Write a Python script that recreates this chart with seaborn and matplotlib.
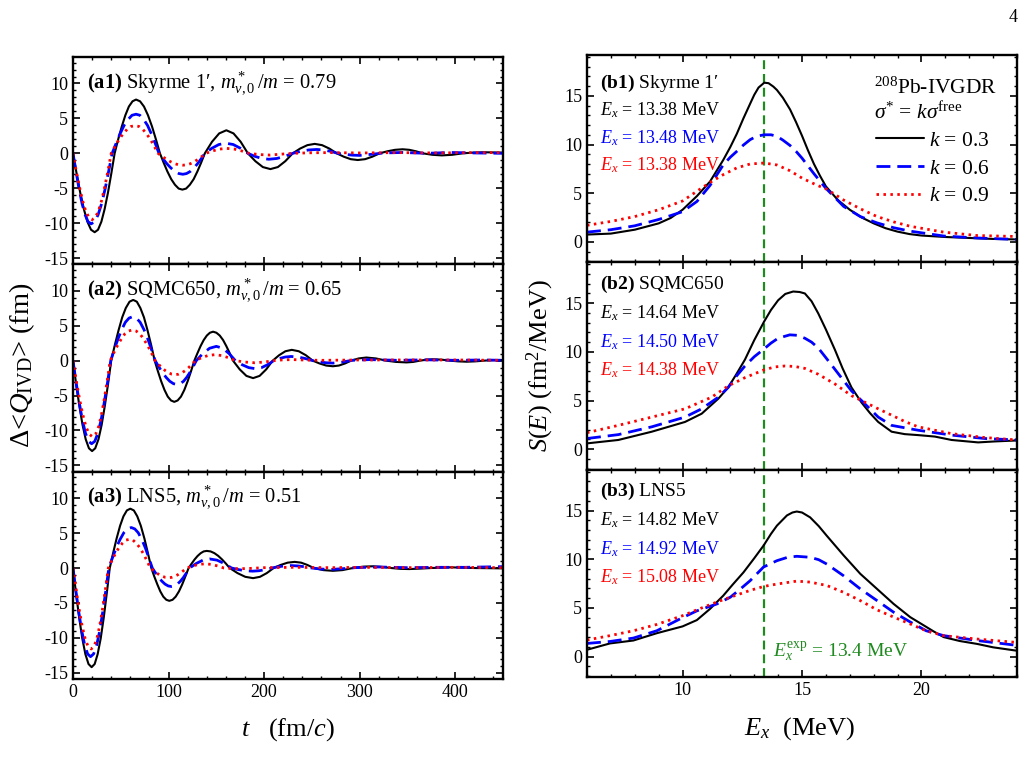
import numpy as np
import pandas as pd
import seaborn as sns
import matplotlib.pyplot as plt
from matplotlib.lines import Line2D
from matplotlib.ticker import MultipleLocator

# --- data: (t [fm/c], dQ [fm]) ---
a1_k03 = [(0, 0), (3.8, -2.9), (7.6, -5.65), (11.4, -8.0), (15.1, -9.8), (18.9, -10.95), (22.7, -11.3),
          (26.2, -10.95), (29.7, -9.8), (33.1, -8.0), (36.6, -5.65), (40.1, -2.9), (43.6, 0),
          (47.3, 2.0), (51.1, 3.85), (54.8, 5.45), (58.5, 6.7), (62.3, 7.45), (66, 7.7),
          (70.2, 7.45), (74.3, 6.7), (78.5, 5.45), (82.7, 3.85), (86.8, 2.0), (91, 0),
          (94.9, -1.35), (98.8, -2.6), (102.8, -3.7), (106.7, -4.5), (110.6, -5.05), (114.5, -5.2),
          (118.4, -5.05), (122.3, -4.5), (126.3, -3.7), (130.2, -2.6), (134.1, -1.35), (138, 0),
          (145.5, 1.65), (153, 2.85), (160.5, 3.3), (168, 2.85), (175.5, 1.65), (183, 0),
          (190.9, -1.13), (198.7, -1.97), (206.6, -2.26), (214.4, -1.97), (222.2, -1.13), (230, 0),
          (237.7, 0.68), (245.3, 1.17), (253, 1.35), (260.7, 1.17), (268.3, 0.68), (276, 0),
          (283.3, -0.48), (290.7, -0.84), (298, -0.96), (305.7, -0.84), (313.3, -0.48), (321, 0),
          (329, 0.29), (337, 0.5), (345, 0.58), (352, 0.5), (359, 0.29), (366, 0),
          (376, -0.21), (386, -0.3), (397, -0.21), (408, 0), (419, 0.1), (430, 0.15), (450, 0.1)]
a1_k06 = [(0, 0), (3.2, -2.6), (6.3, -5.05), (9.5, -7.2), (12.7, -8.8), (15.8, -9.8), (19, -10.1),
          (22.7, -9.8), (26.3, -8.8), (30, -7.2), (33.7, -5.05), (37.3, -2.6), (41, 0),
          (45.2, 1.45), (49.3, 2.8), (53.5, 4.0), (57.7, 4.85), (61.8, 5.45), (66, 5.6),
          (70, 5.45), (74, 4.85), (78, 4.0), (82, 2.8), (86, 1.45), (90, 0),
          (94.2, -0.78), (98.3, -1.5), (102.5, -2.1), (106.7, -2.6), (110.8, -2.9), (115, -3.0),
          (118.8, -2.9), (122.7, -2.6), (126.5, -2.1), (130.3, -1.5), (134.2, -0.78), (138, 0),
          (145.3, 0.72), (152.7, 1.26), (160, 1.45), (167.7, 1.26), (175.3, 0.72), (183, 0),
          (190.3, -0.43), (197.7, -0.74), (205, -0.85), (213.3, -0.74), (221.7, -0.43), (230, 0),
          (238.3, 0.28), (246.7, 0.48), (255, 0.55), (262.3, 0.48), (269.7, 0.28), (277, 0),
          (284.7, -0.15), (292.3, -0.26), (300, -0.3), (312, -0.15), (325, 0.05), (345, 0.12),
          (370, 0.0), (395, 0.12), (420, 0.05), (450, 0.0)]
a1_k09 = [(0, 0), (3.3, -2.45), (6.7, -4.75), (10, -6.75), (13.3, -8.25), (16.7, -9.2), (20, -9.5),
          (23.3, -9.2), (26.7, -8.25), (30, -6.75), (33.3, -4.75), (36.7, -2.45), (40, 0),
          (44.2, 1.03), (48.3, 2.0), (52.5, 2.8), (56.7, 3.45), (60.8, 3.85), (65, 3.95),
          (69, 3.85), (73, 3.45), (77, 2.8), (81, 2.0), (85, 1.03), (89, 0),
          (93.3, -0.44), (97.7, -0.85), (102, -1.2), (106.3, -1.48), (110.7, -1.65), (115, -1.7),
          (119, -1.65), (123, -1.48), (127, -1.2), (131, -0.85), (135, -0.44), (139, 0),
          (146.3, 0.35), (153.7, 0.61), (161, 0.7), (168.7, 0.61), (176.3, 0.35), (184, 0),
          (195, -0.18), (206, -0.25), (218, -0.12), (230, 0.0), (250, 0.08), (270, 0.1), (300, 0.05),
          (340, 0.1), (380, 0.05), (420, 0.1), (450, 0.1)]

a2_k03 = [(0, 0), (3.3, -3.35), (6.7, -6.5), (10, -9.2), (13.3, -11.25), (16.7, -12.55), (20, -12.95),
          (23.3, -12.55), (26.7, -11.25), (30, -9.2), (33.3, -6.5), (36.7, -3.35), (40, 0),
          (43.8, 2.25), (47.7, 4.35), (51.5, 6.2), (55.3, 7.55), (59.2, 8.45), (63, 8.7),
          (66.8, 8.45), (70.5, 7.55), (74.3, 6.2), (78, 4.35), (81.8, 2.25), (85.5, 0),
          (88.9, -1.53), (92.3, -2.95), (95.8, -4.2), (99.2, -5.15), (102.6, -5.7), (106, -5.9),
          (109.5, -5.7), (113, -5.15), (116.5, -4.2), (120, -2.95), (123.5, -1.53), (127, 0),
          (130.3, 1.08), (133.5, 2.08), (136.8, 2.95), (140.1, 3.6), (143.3, 4.0), (146.6, 4.15),
          (150.1, 4.0), (153.6, 3.6), (157.1, 2.95), (160.5, 2.08), (164, 1.08), (167.5, 0),
          (174.5, -1.25), (181.5, -2.18), (188.5, -2.5), (195.3, -2.18), (202.2, -1.25), (209, 0),
          (215.7, 0.78), (222.3, 1.35), (229, 1.55), (236.3, 1.35), (243.7, 0.78), (251, 0),
          (258, -0.4), (265, -0.7), (272, -0.8), (278.3, -0.7), (284.7, -0.4), (291, 0),
          (299, 0.32), (307, 0.45), (317, 0.32), (328, 0), (338, -0.18), (349, -0.25), (356, -0.18),
          (363, 0), (370, 0.14), (377, 0.2), (386, 0.14), (395, 0), (403, -0.1), (412, -0.15),
          (421, -0.1), (430, 0), (440, 0.08), (450, 0.1)]
a2_k06 = [(0, 0), (3.25, -3.1), (6.5, -5.95), (9.75, -8.45), (13, -10.35), (16.25, -11.55), (19.5, -11.9),
          (22.8, -11.55), (26.2, -10.35), (29.5, -8.45), (32.8, -5.95), (36.2, -3.1), (39.5, 0),
          (43.3, 1.64), (47.2, 3.15), (51, 4.45), (54.8, 5.5), (58.7, 6.1), (62.5, 6.3),
          (66.4, 6.1), (70.3, 5.5), (74.3, 4.45), (78.2, 3.15), (82.1, 1.64), (86, 0),
          (89.8, -0.88), (93.7, -1.7), (97.5, -2.4), (101.3, -2.95), (105.2, -3.3), (109, -3.4),
          (112.3, -3.3), (115.7, -2.95), (119, -2.4), (122.3, -1.7), (125.7, -0.88), (129, 0),
          (136, 1.03), (143, 1.78), (150, 2.05), (156.7, 1.78), (163.3, 1.03), (170, 0),
          (177, -0.58), (184, -1.0), (191, -1.15), (197.3, -1.0), (203.7, -0.58), (210, 0),
          (216, 0.3), (222, 0.52), (228, 0.6), (235.7, 0.52), (243.3, 0.3), (251, 0),
          (258, -0.18), (265, -0.3), (272, -0.35), (282, -0.2), (292, 0.05), (310, 0.15), (340, 0.05),
          (370, 0.12), (400, 0.05), (430, 0.1), (450, 0.05)]
a2_k09 = [(0, 0), (3.4, -2.85), (6.8, -5.45), (10.3, -7.75), (13.7, -9.5), (17.1, -10.55), (20.5, -10.9),
          (23.6, -10.55), (26.7, -9.5), (29.8, -7.75), (32.8, -5.45), (35.9, -2.85), (39, 0),
          (42.8, 1.15), (46.7, 2.2), (50.5, 3.1), (54.3, 3.85), (58.2, 4.25), (62, 4.4),
          (66, 4.25), (70, 3.85), (74, 3.1), (78, 2.2), (82, 1.15), (86, 0),
          (89.5, -0.52), (93, -1.0), (96.5, -1.42), (100, -1.74), (103.5, -1.94), (107, -2.0),
          (110.5, -1.94), (114, -1.74), (117.5, -1.42), (121, -1.0), (124.5, -0.52), (128, 0),
          (134.7, 0.43), (141.3, 0.74), (148, 0.85), (155.3, 0.74), (162.7, 0.43), (170, 0),
          (180, -0.2), (190, -0.3), (200, -0.2), (210, 0), (220, 0.12), (230, 0.15), (245, 0.08),
          (260, 0.05), (300, 0.1), (350, 0.1), (400, 0.1), (450, 0.05)]

a3_k03 = [(0, 0), (3.25, -3.7), (6.5, -7.1), (9.75, -10.1), (13, -12.35), (16.25, -13.75), (19.5, -14.2),
          (22.7, -13.75), (25.8, -12.35), (29, -10.1), (32.2, -7.1), (35.3, -3.7), (38.5, 0),
          (42.1, 2.2), (45.7, 4.25), (49.3, 6.05), (52.8, 7.4), (56.4, 8.25), (60, 8.5),
          (63.7, 8.25), (67.3, 7.4), (71, 6.05), (74.7, 4.25), (78.3, 2.2), (82, 0),
          (85.1, -1.22), (88.3, -2.35), (91.4, -3.35), (94.5, -4.1), (97.7, -4.55), (100.8, -4.7),
          (104.2, -4.55), (107.5, -4.1), (110.9, -3.35), (114.3, -2.35), (117.6, -1.22), (121, 0),
          (124.2, 0.64), (127.3, 1.23), (130.5, 1.74), (133.7, 2.13), (136.8, 2.38), (140, 2.45),
          (144, 2.38), (148, 2.13), (152, 1.74), (156, 1.23), (160, 0.64), (164, 0),
          (172.2, -0.73), (180.3, -1.26), (188.5, -1.45), (195.7, -1.26), (202.8, -0.73), (210, 0),
          (217.3, 0.44), (224.7, 0.77), (232, 0.88), (238.7, 0.77), (245.3, 0.44), (252, 0),
          (262, -0.3), (272, -0.4), (282, -0.3), (293, 0), (304, 0.2), (314, 0.25), (324, 0.15), (333, 0),
          (343, -0.12), (352, -0.15), (364, -0.08), (375, 0), (395, 0.1), (420, 0), (450, -0.05)]
a3_k06 = [(0, 0), (3.1, -3.3), (6.1, -6.35), (9.2, -9.0), (12.3, -11.05), (15.3, -12.3), (18.4, -12.7),
          (21.6, -12.3), (24.8, -11.05), (28, -9.0), (31.1, -6.35), (34.3, -3.3), (37.5, 0),
          (41.4, 1.5), (45.3, 2.9), (49.3, 4.1), (53.2, 5.05), (57.1, 5.6), (61, 5.8),
          (64.7, 5.6), (68.3, 5.05), (72, 4.1), (75.7, 2.9), (79.3, 1.5), (83, 0),
          (86.3, -0.69), (89.7, -1.33), (93, -1.88), (96.3, -2.3), (99.7, -2.57), (103, -2.65),
          (106.2, -2.57), (109.3, -2.3), (112.5, -1.88), (115.7, -1.33), (118.8, -0.69), (122, 0),
          (129, 0.65), (136, 1.13), (143, 1.3), (150.7, 1.13), (158.3, 0.65), (166, 0),
          (173.3, -0.23), (180.7, -0.39), (188, -0.45), (194.7, -0.39), (201.3, -0.23), (208, 0),
          (214.7, 0.18), (221.3, 0.3), (228, 0.35), (235.3, 0.3), (242.7, 0.18), (250, 0),
          (260, -0.15), (270, -0.2), (282, -0.1), (295, 0.05), (320, 0.15), (350, 0.05), (380, 0.1),
          (410, 0.1), (430, 0.15), (450, 0.2)]
a3_k09 = [(0, 0), (3.2, -3.0), (6.3, -5.8), (9.5, -8.25), (12.7, -10.1), (15.8, -11.25), (19, -11.6),
          (22, -11.25), (25, -10.1), (28, -8.25), (31, -5.8), (34, -3.0), (37, 0),
          (40.7, 1.07), (44.3, 2.05), (48, 2.9), (51.7, 3.55), (55.3, 4.0), (59, 4.1),
          (62.7, 4.0), (66.3, 3.55), (70, 2.9), (73.7, 2.05), (77.3, 1.07), (81, 0),
          (84.2, -0.36), (87.3, -0.69), (90.5, -0.98), (93.7, -1.2), (96.8, -1.34), (100, -1.38),
          (103.2, -1.34), (106.3, -1.2), (109.5, -0.98), (112.7, -0.69), (115.8, -0.36), (119, 0),
          (125.3, 0.3), (131.7, 0.52), (138, 0.6), (144.7, 0.52), (151.3, 0.3), (158, 0),
          (166, -0.08), (175, -0.1), (186, -0.05), (200, 0.05), (230, 0.1), (270, 0.05), (300, 0.1),
          (350, 0.05), (400, 0.1), (450, 0.05)]

# --- strength functions: (E [MeV], S [fm^2/MeV]) ---
b1_k03 = [(6, 0.75), (7, 0.85), (8, 1.25), (9, 1.9), (9.5, 2.45), (10, 3.3), (10.6, 4.7), (11.15, 6.2),
          (11.7, 8.4), (12.0, 9.75), (12.27, 11.1), (12.55, 12.7), (12.83, 14.2), (13.0, 15.1), (13.18, 15.85),
          (13.42, 16.35), (13.6, 16.3), (13.8, 15.95), (13.95, 15.6), (14.2, 14.8), (14.5, 13.6), (14.75, 12.3),
          (15.0, 10.9), (15.25, 9.4), (15.5, 8.0), (15.75, 6.8), (16.0, 5.7), (16.5, 4.3), (17.0, 3.3),
          (17.5, 2.5), (18, 1.9), (18.5, 1.4), (19, 1.05), (19.5, 0.8), (20, 0.65), (21, 0.5), (22, 0.4),
          (23, 0.3), (24, 0.25)]
b1_k06 = [(6, 1.0), (7, 1.25), (8, 1.65), (9, 2.3), (10, 3.1), (10.6, 4.15), (11.15, 5.8), (11.7, 7.9),
          (12.0, 8.7), (12.27, 9.3), (12.55, 9.95), (12.83, 10.5), (13.1, 10.85), (13.42, 11.0), (13.7, 11.0),
          (13.95, 10.85), (14.2, 10.45), (14.5, 9.9), (14.75, 9.3), (15.0, 8.6), (15.5, 7.0), (16.0, 5.5),
          (16.4, 4.5), (16.74, 3.65), (17.44, 2.6), (18.14, 1.95), (18.84, 1.45), (19.53, 1.1), (20.93, 0.6),
          (22.33, 0.4), (24, 0.25)]
b1_k09 = [(6, 1.7), (7, 2.1), (8, 2.6), (9, 3.3), (10, 4.2), (10.6, 5.2), (11.15, 6.1), (11.7, 6.9),
          (12.27, 7.6), (12.83, 8.0), (13.42, 8.1), (13.95, 7.9), (14.5, 7.3), (15.0, 6.55), (15.6, 5.85),
          (16.04, 5.4), (16.74, 4.3), (17.44, 3.4), (18.14, 2.6), (18.84, 2.05), (19.53, 1.6), (20.93, 1.0),
          (22.33, 0.65), (24, 0.55)]

b2_k03 = [(6, 0.6), (7.31, 0.95), (8.71, 1.8), (10.1, 2.8), (10.8, 3.65), (11.5, 5.2), (11.91, 6.35),
          (12.25, 7.7), (12.61, 9.2), (13.0, 11.2), (13.41, 13.1), (13.7, 14.3), (14.0, 15.3), (14.3, 15.95),
          (14.63, 16.2), (14.9, 16.15), (15.12, 16.0), (15.4, 15.2), (15.68, 13.95), (16.0, 12.3),
          (16.38, 10.2), (16.7, 8.3), (17.07, 6.35), (17.49, 4.8), (17.85, 3.7), (18.19, 2.8), (18.75, 1.8),
          (19.3, 1.55), (19.86, 1.45), (20.56, 1.3), (21.26, 0.95), (22.37, 0.7), (23.07, 0.8), (24, 0.9)]
b2_k06 = [(6, 1.1), (7.31, 1.5), (8.71, 2.3), (10.1, 3.3), (10.8, 4.15), (11.5, 5.35), (11.91, 6.35),
          (12.25, 7.5), (12.61, 8.55), (13.0, 9.5), (13.41, 10.3), (13.7, 10.9), (14.0, 11.4), (14.49, 11.75),
          (14.8, 11.7), (15.12, 11.4), (15.4, 11.0), (15.68, 10.4), (16.0, 9.4), (16.38, 8.2), (17.07, 6.0),
          (17.49, 5.0), (18.19, 3.3), (18.75, 2.45), (19.86, 1.95), (21.26, 1.45), (22.65, 1.1), (24, 0.95)]
b2_k09 = [(6, 1.7), (7.31, 2.45), (8.71, 3.3), (10.1, 4.15), (11.22, 5.35), (11.91, 6.5), (12.61, 7.35),
          (13.41, 8.15), (13.85, 8.45), (14.28, 8.55), (14.7, 8.5), (15.12, 8.3), (15.68, 7.7), (16.38, 6.7),
          (17.07, 5.5), (17.49, 5.0), (18.19, 4.15), (18.75, 3.5), (19.3, 2.85), (19.86, 2.3), (21.26, 1.6),
          (22.65, 1.2), (24, 0.95)]

b3_k03 = [(6, 0.7), (6.96, 1.35), (7.94, 1.65), (8.92, 2.4), (10, 3.1), (10.6, 3.75), (11.15, 4.9),
          (11.7, 6.25), (12.1, 7.4), (12.55, 8.65), (13.0, 10.1), (13.39, 11.4), (13.7, 12.6), (13.95, 13.45),
          (14.37, 14.5), (14.6, 14.8), (14.78, 14.9), (15.0, 14.8), (15.34, 14.3), (15.7, 13.4), (16.04, 12.4),
          (16.74, 10.4), (17.44, 8.5), (18.14, 6.95), (18.84, 5.4), (19.53, 4.05), (20, 3.35), (20.5, 2.6),
          (20.93, 2.0), (21.6, 1.6), (22.33, 1.3), (23, 0.95), (24, 0.6)]
b3_k06 = [(6, 1.35), (6.96, 1.55), (7.94, 1.9), (8.92, 2.65), (10, 4.0), (10.6, 4.7), (11.43, 5.4), (12, 6.1),
          (12.4, 6.9), (12.83, 7.8), (13.39, 9.2), (13.95, 9.85), (14.4, 10.2), (14.78, 10.3), (15.34, 10.2),
          (15.7, 9.95), (16.04, 9.5), (16.74, 8.3), (17.44, 6.95), (18.14, 5.75), (18.84, 4.55), (19.53, 3.55),
          (20.2, 2.65), (20.93, 2.15), (22.33, 1.65), (24, 1.15)]
b3_k09 = [(6, 1.7), (6.96, 2.15), (7.94, 2.65), (8.92, 3.3), (10, 4.2), (10.6, 4.8), (11.43, 5.6), (12, 6.1),
          (12.83, 6.8), (13.39, 7.2), (13.95, 7.45), (14.78, 7.75), (15.34, 7.65), (16.04, 7.3), (16.74, 6.6),
          (17.44, 5.75), (18.14, 4.8), (18.84, 4.05), (19.53, 3.35), (20.2, 2.65), (20.93, 2.15), (22.33, 1.8),
          (24, 1.45)]

k_labels = ['0.3', '0.6', '0.9']
left_titles = [r"$\mathbf{(a1)}$ Skyrme 1" + "\u2032" + r", $m^*_{v,0}\,/m$ = 0.79",
               r"$\mathbf{(a2)}$ SQMC650, $m^*_{v,0}\,/m$ = 0.65",
               r"$\mathbf{(a3)}$ LNS5, $m^*_{v,0}\,/m$ = 0.51"]
right_titles = [r"$\mathbf{(b1)}$ Skyrme 1" + "\u2032", r"$\mathbf{(b2)}$ SQMC650", r"$\mathbf{(b3)}$ LNS5"]
ex_values = [['13.38', '13.48', '13.38'], ['14.64', '14.50', '14.38'], ['14.82', '14.92', '15.08']]
E_exp = 13.4

left_data = [[a1_k03, a1_k06, a1_k09], [a2_k03, a2_k06, a2_k09], [a3_k03, a3_k06, a3_k09]]
right_data = [[b1_k03, b1_k06, b1_k09], [b2_k03, b2_k06, b2_k09], [b3_k03, b3_k06, b3_k09]]

# --- style ---
sns.set_theme(style='ticks')
plt.rcParams['font.family'] = ['Liberation Serif', 'DejaVu Serif']
plt.rcParams['mathtext.fontset'] = 'custom'
plt.rcParams['mathtext.rm'] = 'Liberation Serif'
plt.rcParams['mathtext.it'] = 'Liberation Serif:italic'
plt.rcParams['mathtext.bf'] = 'Liberation Serif:bold'
plt.rcParams['axes.unicode_minus'] = False
plt.rcParams['text.color'] = 'black'
plt.rcParams['axes.labelcolor'] = 'black'
plt.rcParams['xtick.color'] = 'black'
plt.rcParams['ytick.color'] = 'black'

palette = {'0.3': 'black', '0.6': '#0000ff', '0.9': '#ff0000'}
dashes = {'0.3': '', '0.6': (5, 2.5), '0.9': (0.9, 1.6)}
widths = {'0.3': 1.5, '0.6': 2.0, '0.9': 2.0}
green = '#1f8a1f'


def to_frame(curves, xname, yname):
    parts = []
    for lab, pts in zip(k_labels, curves):
        arr = np.array(pts, dtype=float)
        parts.append(pd.DataFrame({xname: arr[:, 0], yname: arr[:, 1], 'k': lab}))
    return pd.concat(parts, ignore_index=True)


def draw_curves(ax, df, xname, yname):
    for lab in k_labels:
        sub = df[df['k'] == lab]
        sns.lineplot(data=sub, x=xname, y=yname, ax=ax, color=palette[lab], lw=widths[lab],
                     estimator=None, sort=False, legend=False)
        if dashes[lab]:
            ax.lines[-1].set_dashes(dashes[lab])


def style_axis(ax):
    for sp in ax.spines.values():
        sp.set_linewidth(1.7)
        sp.set_color('black')
    ax.tick_params(which='both', direction='in', top=True, right=True, colors='black', labelsize=13)
    ax.tick_params(which='major', length=5, width=1.2)
    ax.tick_params(which='minor', length=2.5, width=1.0)
    ax.set_xlabel('')
    ax.set_ylabel('')


fig = plt.figure(figsize=(10.25, 7.74), dpi=100)
h = 0.2679
left_bottoms = [0.6585, 0.3906, 0.1227]
right_bottoms = [0.6611, 0.3932, 0.1253]

for i in range(3):
    ax = fig.add_axes([0.0712, left_bottoms[i], 0.4195, h])
    draw_curves(ax, to_frame(left_data[i], 't', 'dQ'), 't', 'dQ')
    ax.set_xlim(0, 450)
    ax.set_ylim(-15.9, 13.8)
    ax.xaxis.set_major_locator(MultipleLocator(100))
    ax.xaxis.set_minor_locator(MultipleLocator(20))
    ax.yaxis.set_major_locator(MultipleLocator(5))
    ax.yaxis.set_minor_locator(MultipleLocator(1))
    style_axis(ax)
    if i < 2:
        ax.tick_params(labelbottom=False)
    ax.text(0.033, 0.875, left_titles[i], transform=ax.transAxes, fontsize=14.8, va='center', ha='left')

for i in range(3):
    ax = fig.add_axes([0.5727, right_bottoms[i], 0.4195, h])
    draw_curves(ax, to_frame(right_data[i], 'E', 'S'), 'E', 'S')
    ax.axvline(E_exp, color=green, lw=1.6, dashes=(4, 2.2), zorder=1)
    ax.set_xlim(6, 24)
    ax.set_ylim(-2.1, 19.2)
    ax.xaxis.set_major_locator(MultipleLocator(5))
    ax.xaxis.set_minor_locator(MultipleLocator(1))
    ax.yaxis.set_major_locator(MultipleLocator(5))
    ax.yaxis.set_minor_locator(MultipleLocator(1))
    style_axis(ax)
    if i < 2:
        ax.tick_params(labelbottom=False)
    top_off = [0.135, 0.265, 0.40, 0.53] if i == 0 else [0.105, 0.245, 0.385, 0.52]
    ax.text(0.03, 1 - top_off[0], right_titles[i], transform=ax.transAxes, fontsize=14, va='center')
    for j, lab in enumerate(k_labels):
        ax.text(0.03, 1 - top_off[j + 1], r"$E_x$ = " + ex_values[i][j] + " MeV", transform=ax.transAxes,
                fontsize=13, va='center', color=palette[lab])
    if i == 0:
        ax.text(0.667, 0.842, r"$^{208}$Pb-IVGDR", transform=ax.transAxes, fontsize=15.5, va='center', ha='left')
        ax.text(0.667, 0.716, r"$\sigma^{*}$ = $k\sigma^{\rm free}$", transform=ax.transAxes, fontsize=15.5,
                va='center', ha='left')
        handles = []
        for lab in k_labels:
            ln = Line2D([], [], color=palette[lab], lw=widths[lab])
            if dashes[lab]:
                ln.set_dashes(dashes[lab])
            handles.append(ln)
        ax.legend(handles, [r"$k$ = " + lab for lab in k_labels], loc='upper left',
                  bbox_to_anchor=(0.672, 0.635), frameon=False, fontsize=15.5, handlelength=2.25,
                  handletextpad=0.2, labelspacing=0.36, borderaxespad=0, borderpad=0)
    if i == 2:
        ax.text(0.433, 0.12, r"$E_x^{\rm exp}$ = 13.4 MeV", transform=ax.transAxes, fontsize=14,
                va='center', color=green)

fig.text(0.022, 0.528, r"$\Delta$<$Q_{\rm IVD}$> (fm)", rotation=90, fontsize=20.5, ha='center', va='center')
fig.text(0.527, 0.528, r"$S$($E$) (fm$^2$/MeV)", rotation=90, fontsize=19, ha='center', va='center')
fig.text(0.281, 0.057, r"$t$   (fm/$c$)", fontsize=19, ha='center', va='center')
fig.text(0.78, 0.059, r"$E_x$  (MeV)", fontsize=19, ha='center', va='center')
fig.text(0.988, 0.978, "4", fontsize=13, ha='center', va='center')

fig.savefig('out.png', dpi=100)
